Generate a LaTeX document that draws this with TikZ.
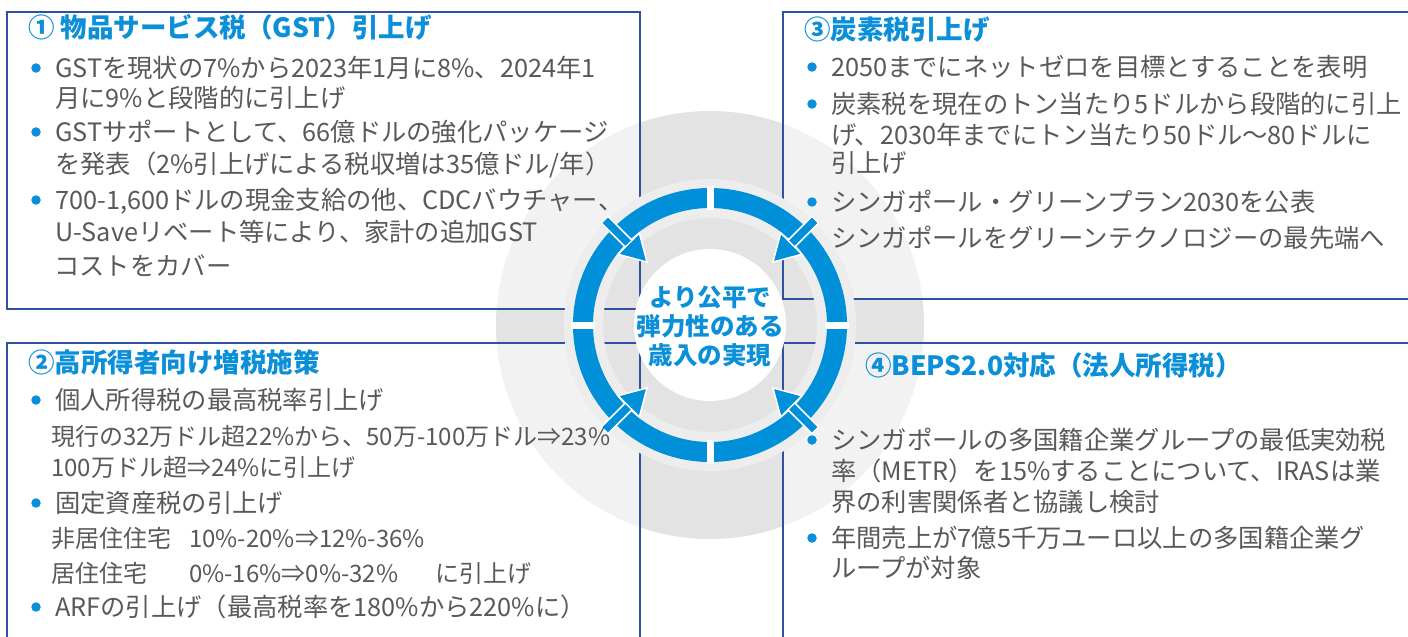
\documentclass[tikz,border=0pt]{standalone}
\usepackage{fontspec}
\setmainfont{Noto Sans CJK JP}
\usetikzlibrary{calc}
\definecolor{tblue}{HTML}{0A8FD8}
\definecolor{rblue}{HTML}{0090D9}
\definecolor{bline}{HTML}{3050A0}
\definecolor{tgray}{HTML}{595959}
\definecolor{gcirc}{HTML}{E3E3E3}
\definecolor{halo}{HTML}{EDEDED}
\tikzset{
 txt/.style={anchor=west, inner sep=0pt, text=tgray, font=\fontsize{25.3}{30}\selectfont, text height=22pt, text depth=3pt},
 sml/.style={anchor=west, inner sep=0pt, text=tgray, font=\fontsize{24}{28}\selectfont, text height=21pt, text depth=3pt},
 ttl/.style={anchor=west, inner sep=0pt, text=tblue, font=\fontsize{26.5}{32}\selectfont\bfseries, text height=23pt, text depth=3pt},
 bdot/.style={circle, fill=tblue, minimum size=9.5pt, inner sep=0pt},
 boxline/.style={draw=bline, line width=1.5pt},
 boxfill/.style={fill=white, fill opacity=0.55},
}
\begin{document}
\begin{tikzpicture}[x=1pt,y=-1pt]
\useasboundingbox (0,0) rectangle (1408,637);
\clip (0,0) rectangle (1408,637);
\fill[white] (0,0) rectangle (1408,637);
\coordinate (C) at (710,325);
% big gray circle
\fill[gcirc] (C) circle[radius=214pt];
% box fills
\fill[boxfill] (7,12) rectangle (640,309);
\fill[boxfill] (783,12) rectangle (1420,299);
\fill[boxfill] (7,343) rectangle (640,650);
\fill[boxfill] (783,343) rectangle (1420,650);
% inner disc
\fill[gcirc] (C) circle[radius=146pt];
% box borders
\draw[boxline] (7,12) rectangle (640,309);
\draw[boxline] (1420,12) -- (783,12) -- (783,299) -- (1420,299);
\draw[boxline] (7,650) -- (7,343) -- (640,343) -- (640,650);
\draw[boxline] (1420,343) -- (783,343) -- (783,650);
% halo around ring
\fill[halo, even odd rule] (C) circle[radius=146pt] (C) circle[radius=107pt];
% blue ring
\draw[rblue, line width=20pt] (C) circle[radius=127pt];
\foreach \a in {0,90,180,270}{
  \draw[white, line width=7pt] ($(C)+(\a:115pt)$) -- ($(C)+(\a:139pt)$);
}
% arrows
\foreach \a in {45,135,225,315}{
  \draw[white, line width=11pt] ($(C)+(\a:149pt)$) -- ($(C)+(\a:110pt)$);
  \draw[rblue, line width=7.5pt] ($(C)+(\a:148pt)$) -- ($(C)+(\a:110pt)$);
  \filldraw[fill=rblue, draw=white, line width=1.5pt, line join=miter]
    ($(C)+(\a:115pt)+(\a+90:15pt)$) -- ($(C)+(\a:89pt)$) -- ($(C)+(\a:115pt)+(\a-90:15pt)$) -- cycle;
}
% white centre
\fill[white] (C) circle[radius=76pt];
\node[align=center, inner sep=0pt, text=tblue, font=\fontsize{24.5}{29}\selectfont\bfseries] (ctr) at (710,326.5) {より公平で\\弾力性のある\\歳入の実現};

% box 1
\node[ttl] (t1) at (28,27) {① 物品サービス税（GST）引上げ};
\node[bdot] (d11) at (36,68) {};
\node[txt] (l11) at (55,68) {GSTを現状の7\%から2023年1月に8\%、2024年1};
\node[txt] (l12) at (55,98) {月に9\%と段階的に引上げ};
\node[bdot] (d12) at (36,132) {};
\node[txt] (l13) at (55,132) {GSTサポートとして、66億ドルの強化パッケージ};
\node[txt] (l14) at (55,164) {を発表（2\%引上げによる税収増は35億ドル/年）};
\node[bdot] (d13) at (36,200) {};
\node[txt] (l15) at (55,200) {700-1,600ドルの現金支給の他、CDCバウチャー、};
\node[txt] (l16) at (55,232) {U-Saveリベート等により、家計の追加GST};
\node[txt] (l17) at (54,266) {コストをカバー};

% box 3
\node[ttl] (t3) at (804,29) {③炭素税引上げ};
\node[bdot] (d31) at (812,67) {};
\node[txt] (l31) at (831,67) {2050までにネットゼロを目標とすることを表明};
\node[bdot] (d32) at (812,104) {};
\node[txt] (l32) at (831,104) {炭素税を現在のトン当たり5ドルから段階的に引上};
\node[txt] (l33) at (831,135) {げ、2030年までにトン当たり50ドル～80ドルに};
\node[txt] (l34) at (831,163) {引上げ};
\node[bdot] (d33) at (812,202) {};
\node[txt] (l35) at (831,202) {シンガポール・グリーンプラン2030を公表};
\node[txt] (l36) at (831,238) {シンガポールをグリーンテクノロジーの最先端へ};

% box 2
\node[ttl] (t2) at (28,362) {②高所得者向け増税施策};
\node[bdot] (d21) at (36,400) {};
\node[txt] (l21) at (55,400) {個人所得税の最高税率引上げ};
\node[sml] (l22) at (51,436) {現行の32万ドル超22\%から、50万-100万ドル⇒23\%};
\node[sml] (l23) at (51,467) {100万ドル超⇒24\%に引上げ};
\node[bdot] (d22) at (36,503) {};
\node[txt] (l24) at (55,503) {固定資産税の引上げ};
\node[sml] (l25a) at (51,538) {非居住住宅};
\node[sml] (l25b) at (189,538) {10\%-20\%⇒12\%-36\%};
\node[sml] (l26a) at (51,573) {居住住宅};
\node[sml] (l26b) at (189,573) {0\%-16\%⇒0\%-32\%};
\node[sml] (l26c) at (435,573) {に引上げ};
\node[bdot] (d23) at (36,607) {};
\node[txt] (l27) at (55,607) {ARFの引上げ（最高税率を180\%から220\%に）};

% box 4
\node[ttl] (t4) at (865,365) {④BEPS2.0対応（法人所得税）};
\node[bdot] (d41) at (812,440) {};
\node[txt] (l41) at (831,440) {シンガポールの多国籍企業グループの最低実効税};
\node[txt] (l42) at (831,471) {率（METR）を15\%することについて、IRASは業};
\node[txt] (l43) at (831,502) {界の利害関係者と協議し検討};
\node[bdot] (d42) at (812,538) {};
\node[txt] (l44) at (831,538) {年間売上が7億5千万ユーロ以上の多国籍企業グ};
\node[txt] (l45) at (831,568) {ループが対象};
\end{tikzpicture}
\end{document}
